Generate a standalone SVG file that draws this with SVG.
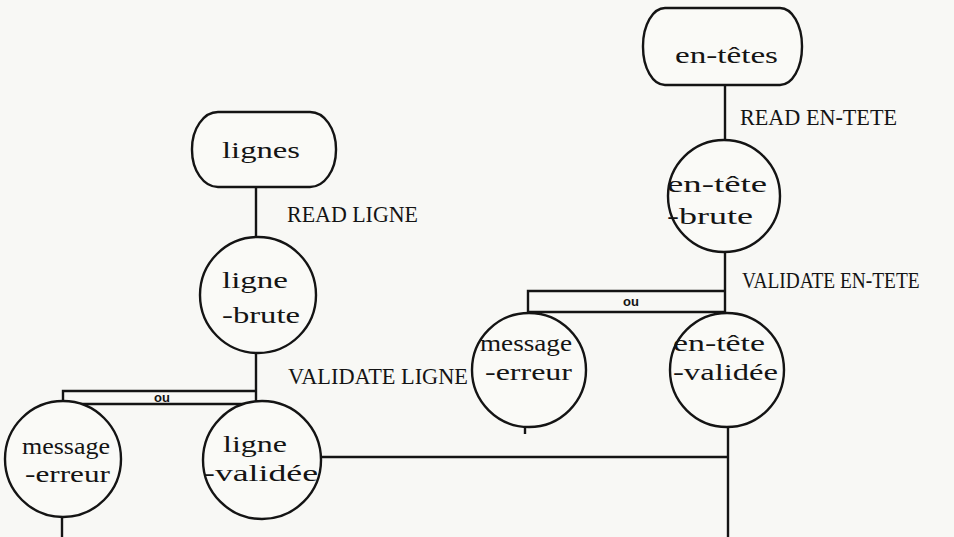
<svg xmlns="http://www.w3.org/2000/svg" width="954" height="537" viewBox="0 0 954 537">
<style>
.bg{fill:#f8f8f5}
.s{fill:none;stroke:#141414;stroke-width:2.4}
.n{fill:#fafaf7;stroke:#141414;stroke-width:2.4}
.t{font-family:"Liberation Serif",serif;font-size:24px;fill:#141414}
.l{font-family:"Liberation Serif",serif;font-size:24px;fill:#141414}
.o{font-family:"Liberation Sans",sans-serif;font-size:13px;font-weight:bold;fill:#141414}
</style>
<rect class="bg" x="0" y="0" width="954" height="537"/>
<g id="connectors">
<line class="s" x1="256" y1="187" x2="256" y2="238"/>
<line class="s" x1="256" y1="353" x2="256" y2="404"/>
<path class="s" d="M256,391 H63 V404 H256"/>
<line class="s" x1="62" y1="516" x2="62" y2="537"/>
<line class="s" x1="725" y1="85" x2="725" y2="142"/>
<line class="s" x1="725" y1="251" x2="725" y2="312"/>
<path class="s" d="M725,291 H528 V312 H725"/>
<line class="s" x1="525" y1="427" x2="525" y2="434"/>
<path class="s" d="M320,457 H728"/>
<line class="s" x1="728" y1="427" x2="728" y2="537"/>
<text class="o" x="162" y="402" text-anchor="middle">ou</text>
<text class="o" x="631" y="306" text-anchor="middle">ou</text>
<text class="l" x="287" y="222" textLength="131" lengthAdjust="spacingAndGlyphs">READ LIGNE</text>
<text class="l" x="288" y="384" textLength="180" lengthAdjust="spacingAndGlyphs">VALIDATE LIGNE</text>
<text class="l" x="740" y="125" textLength="157" lengthAdjust="spacingAndGlyphs">READ EN-TETE</text>
<text class="l" transform="translate(742,288) scale(0.8,1)" x="0" y="0" textLength="222" lengthAdjust="spacingAndGlyphs">VALIDATE EN-TETE</text>
</g>
<g id="lignes">
<rect class="n" x="192" y="112" width="144" height="75" rx="26" ry="37"/>
<text class="t" x="222" y="158" textLength="78" lengthAdjust="spacingAndGlyphs">lignes</text>
</g>
<g id="ligne-brute">
<circle class="n" cx="258" cy="295" r="58"/>
<text class="t" x="222" y="288" textLength="66" lengthAdjust="spacingAndGlyphs">ligne</text>
<text class="t" x="222" y="323" textLength="78" lengthAdjust="spacingAndGlyphs">-brute</text>
</g>
<g id="message-erreur-ligne">
<circle class="n" cx="63" cy="459" r="58"/>
<text class="t" x="22" y="454" textLength="88" lengthAdjust="spacingAndGlyphs">message</text>
<text class="t" x="25" y="482" textLength="85" lengthAdjust="spacingAndGlyphs">-erreur</text>
</g>
<g id="ligne-validee">
<circle class="n" cx="262" cy="460" r="59"/>
<text class="t" x="223" y="452" textLength="64" lengthAdjust="spacingAndGlyphs">ligne</text>
<text class="t" x="203" y="481" textLength="115" lengthAdjust="spacingAndGlyphs">-validée</text>
</g>
<g id="en-tetes">
<rect class="n" x="643" y="8" width="159" height="77" rx="22" ry="38"/>
<text class="t" x="675" y="63" textLength="103" lengthAdjust="spacingAndGlyphs">en-têtes</text>
</g>
<g id="en-tete-brute">
<circle class="n" cx="724" cy="196" r="56"/>
<text class="t" x="667" y="192" textLength="100" lengthAdjust="spacingAndGlyphs">en-tête</text>
<text class="t" x="667" y="224" textLength="86" lengthAdjust="spacingAndGlyphs">-brute</text>
</g>
<g id="message-erreur-en-tete">
<circle class="n" cx="529" cy="370" r="57"/>
<text class="t" x="480" y="351" textLength="92" lengthAdjust="spacingAndGlyphs">message</text>
<text class="t" x="485" y="380" textLength="87" lengthAdjust="spacingAndGlyphs">-erreur</text>
</g>
<g id="en-tete-validee">
<circle class="n" cx="727" cy="370" r="57"/>
<text class="t" x="673" y="351" textLength="92" lengthAdjust="spacingAndGlyphs">en-tête</text>
<text class="t" x="673" y="380" textLength="105" lengthAdjust="spacingAndGlyphs">-validée</text>
</g>
</svg>
